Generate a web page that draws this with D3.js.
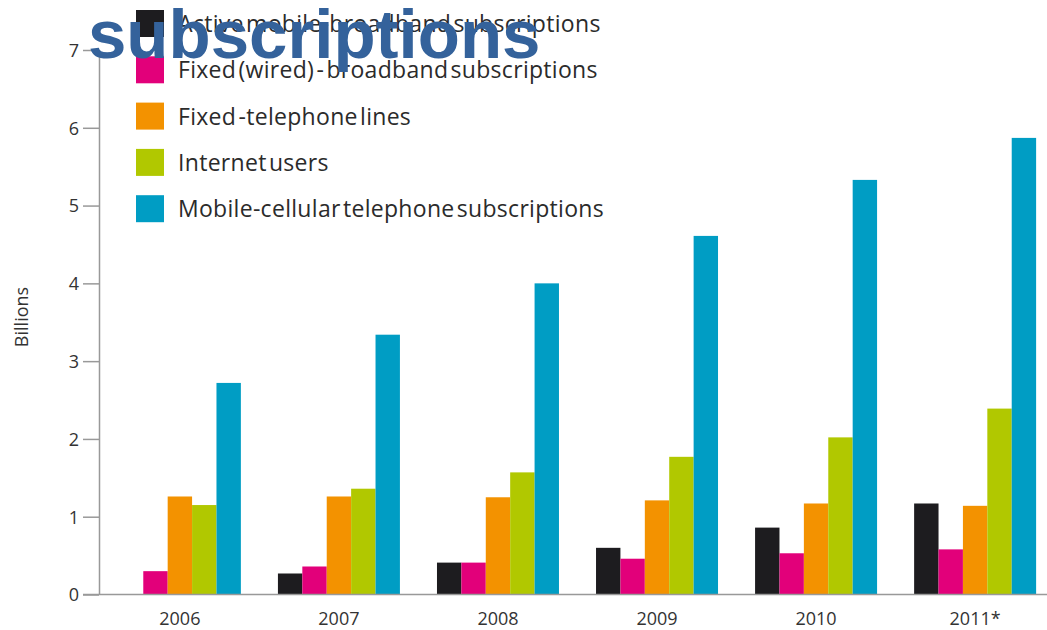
<!DOCTYPE html>
<html>
<head>
<meta charset="utf-8">
<script src="https://cdn.jsdelivr.net/npm/d3@7"></script>
<style>
  body { margin: 0; background: #fff; }
  svg { display: block; font-family: 'Open Sans', sans-serif; }
  .axis text { fill: #333; font-size: 18px; font-family: 'Open Sans', sans-serif; }
  .axis path, .axis line { stroke: #999; stroke-width: 1.5; }
  .legend text { fill: #2b2b2b; font-size: 23px; word-spacing: -4px; letter-spacing: 0.3px; }
</style>
</head>
<body>
<div id="chart"></div>
<script>
// data (billions)
const years = ['2006', '2007', '2008', '2009', '2010', '2011*'];
const seriesNames = [
  'Active mobile-broadband subscriptions',
  'Fixed (wired) - broadband subscriptions',
  'Fixed -telephone lines',
  'Internet users',
  'Mobile-cellular telephone subscriptions',
];
const activeMobileBroadband = [0, 0.27, 0.41, 0.60, 0.86, 1.17];
const fixedBroadband = [0.30, 0.36, 0.41, 0.46, 0.53, 0.58];
const fixedTelephone = [1.26, 1.26, 1.25, 1.21, 1.17, 1.14];
const internetUsers = [1.15, 1.36, 1.57, 1.77, 2.02, 2.39];
const mobileCellular = [2.72, 3.34, 4.00, 4.61, 5.33, 5.87];
const yTicks = [0, 1, 2, 3, 4, 5, 6, 7];

const seriesValues = [activeMobileBroadband, fixedBroadband, fixedTelephone, internetUsers, mobileCellular];
const colors = ['#1d1c1f', '#e2007a', '#f39200', '#b1c800', '#009dc4'];

// dimensions
const WIDTH = 1047;
const HEIGHT = 630;
const AXIS_X = 99;
const BASE_Y = 594.5;
const TOP_Y = 50;

const $svg = d3.select('#chart').append('svg')
  .attr('width', WIDTH)
  .attr('height', HEIGHT);

// scales
const scaleX = d3.scaleBand()
  .domain(years)
  .range([AXIS_X, 1056])
  .paddingInner(0.233)
  .paddingOuter(0.125);

const scaleSeries = d3.scaleBand()
  .domain(d3.range(seriesNames.length))
  .range([0, scaleX.bandwidth()]);

const scaleY = d3.scaleLinear().domain([0, 7]).range([BASE_Y, TOP_Y]);

// bars
const rows = years.map((year, i) => ({
  year,
  values: seriesValues.map((s, j) => ({ j, value: s[i] })),
}));

const $groups = $svg.append('g').attr('class', 'g-vis')
  .selectAll('g')
  .data(rows)
  .join('g')
  .attr('transform', d => `translate(${scaleX(d.year)},0)`);

$groups.selectAll('rect')
  .data(d => d.values.filter(v => v.value > 0))
  .join('rect')
  .attr('x', d => scaleSeries(d.j))
  .attr('width', scaleSeries.bandwidth())
  .attr('y', d => scaleY(d.value))
  .attr('height', d => scaleY(0) - scaleY(d.value))
  .attr('fill', d => colors[d.j]);

// y axis
const $yAxis = $svg.append('g')
  .attr('class', 'axis')
  .attr('transform', `translate(${AXIS_X},0)`)
  .call(d3.axisLeft(scaleY)
    .tickValues(yTicks)
    .tickFormat(d3.format('d'))
    .tickSize(16)
    .tickSizeOuter(0)
    .tickPadding(4));
$yAxis.selectAll('text').attr('dy', '0.35em');

// x axis baseline
$svg.append('line')
  .attr('x1', 83).attr('x2', WIDTH)
  .attr('y1', scaleY(0)).attr('y2', scaleY(0))
  .attr('stroke', '#999').attr('stroke-width', 1.5);

$svg.append('g')
  .attr('class', 'axis')
  .selectAll('text')
  .data(years)
  .join('text')
  .attr('x', d => scaleX(d) + scaleX.bandwidth() / 2)
  .attr('y', 625)
  .attr('text-anchor', 'middle')
  .text(d => d);

// y label
$svg.append('text')
  .attr('transform', 'translate(28,317) rotate(-90)')
  .attr('text-anchor', 'middle')
  .attr('fill', '#333')
  .style('font-size', '18px')
  .text('Billions');

// legend
const $legend = $svg.append('g').attr('class', 'legend');
const $items = $legend.selectAll('g')
  .data(seriesNames)
  .join('g')
  .attr('transform', (d, i) => `translate(136,${10 + i * 46.3})`);
$items.append('rect')
  .attr('width', 28)
  .attr('height', 27)
  .attr('fill', (d, i) => colors[i]);
$items.append('text')
  .attr('x', 42)
  .attr('y', 22)
  .text(d => d);

// overlapping title fragment
$svg.append('text')
  .attr('x', 88)
  .attr('y', 58)
  .attr('fill', '#34629b')
  .style('font-family', "'Liberation Sans', Arial, sans-serif")
  .style('font-weight', 'bold')
  .style('font-size', '69px')
  .text('subscriptions');
</script>
</body>
</html>
